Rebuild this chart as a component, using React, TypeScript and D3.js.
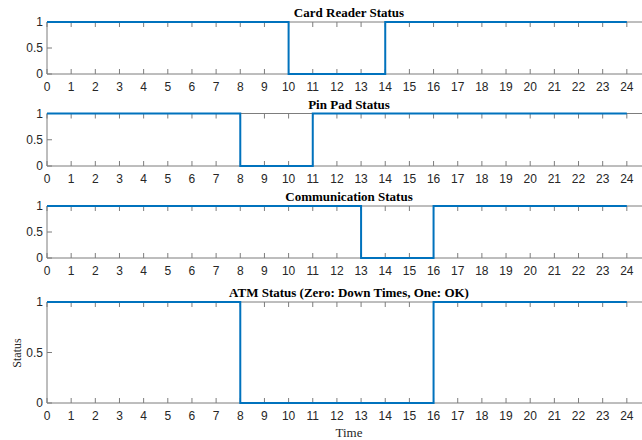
import React from "react";
import * as d3 from "d3";

// Hourly status values (value held over [h, h+1))
const hours = d3.range(0, 25);
const cardReader = [1,1,1,1,1,1,1,1,1,1,0,0,0,0,1,1,1,1,1,1,1,1,1,1];
const pinPad     = [1,1,1,1,1,1,1,1,0,0,0,1,1,1,1,1,1,1,1,1,1,1,1,1];
const commStatus = [1,1,1,1,1,1,1,1,1,1,1,1,1,0,0,0,1,1,1,1,1,1,1,1];
const atmStatus  = [1,1,1,1,1,1,1,1,0,0,0,0,0,0,0,0,1,1,1,1,1,1,1,1];
const titles = [
  "Card Reader Status",
  "Pin Pad Status",
  "Communication Status",
  "ATM Status (Zero: Down Times, One: OK)",
];
const seriesList = [cardReader, pinPad, commStatus, atmStatus];
const xTicks = d3.range(0, 25);
const yTicks = [0, 0.5, 1];
const xLabel = "Time";
const yLabel = "Status";

const W = 642, H = 440;
const panels: [number, number][] = [
  [22, 74],
  [113.5, 166],
  [206, 258],
  [302, 403],
];
const axisColor = "#7d7d7d";
const textColor = "#262626";
const lineColor = "#0072BD";

export default function App() {
  const x = d3.scaleLinear().domain([0, 25]).range([47, 651]);
  return (
    <svg width={W} height={H} style={{ display: "block", position: "absolute", left: 0, top: 0, background: "#fff" }}>
      {seriesList.map((vals, i) => {
        const [top, bottom] = panels[i];
        const y = d3.scaleLinear().domain([0, 1]).range([bottom, top]);
        const pts: [number, number][] = hours.map((h) => [h, h < vals.length ? vals[h] : vals[vals.length - 1]]);
        const line = d3
          .line<[number, number]>()
          .x((d) => x(d[0]))
          .y((d) => y(d[1]))
          .curve(d3.curveStepAfter);
        const tl = 5;
        return (
          <g key={i}>
            {/* axes box (top, bottom, left) */}
            <line x1={x(0)} x2={W} y1={bottom} y2={bottom} stroke={axisColor} strokeWidth={1} />
            <line x1={x(0)} x2={W} y1={top} y2={top} stroke={axisColor} strokeWidth={1} />
            <line x1={x(0)} x2={x(0)} y1={top} y2={bottom} stroke={axisColor} strokeWidth={1} />
            {xTicks.map((t) => (
              <g key={t}>
                <line x1={x(t)} x2={x(t)} y1={bottom} y2={bottom - tl} stroke={axisColor} strokeWidth={1} />
                <line x1={x(t)} x2={x(t)} y1={top} y2={top + tl} stroke={axisColor} strokeWidth={1} />
                <text
                  x={x(t)}
                  y={bottom + 17}
                  textAnchor="middle"
                  fontFamily="Liberation Sans, Arial, sans-serif"
                  fontSize={12}
                  fill={textColor}
                >
                  {t}
                </text>
              </g>
            ))}
            {yTicks.map((t) => (
              <g key={t}>
                <line x1={x(0)} x2={x(0) + tl} y1={y(t)} y2={y(t)} stroke={axisColor} strokeWidth={1} />
                <text
                  x={x(0) - 4}
                  y={y(t) + 4}
                  textAnchor="end"
                  fontFamily="Liberation Sans, Arial, sans-serif"
                  fontSize={12}
                  fill={textColor}
                >
                  {t}
                </text>
              </g>
            ))}
            <path d={line(pts) || ""} fill="none" stroke={lineColor} strokeWidth={2} />
            <text
              x={(x(0) + x(25)) / 2}
              y={top - 5}
              textAnchor="middle"
              fontFamily="Liberation Serif, Times New Roman, serif"
              fontWeight="bold"
              fontSize={13}
              fill="#000"
            >
              {titles[i]}
            </text>
          </g>
        );
      })}
      <text
        x={(x(0) + x(25)) / 2}
        y={437}
        textAnchor="middle"
        fontFamily="Liberation Serif, Times New Roman, serif"
        fontSize={13}
        fill={textColor}
      >
        {xLabel}
      </text>
      <text
        transform={`translate(21, 353) rotate(-90)`}
        textAnchor="middle"
        fontFamily="Liberation Serif, Times New Roman, serif"
        fontSize={12}
        fill={textColor}
      >
        {yLabel}
      </text>
    </svg>
  );
}
